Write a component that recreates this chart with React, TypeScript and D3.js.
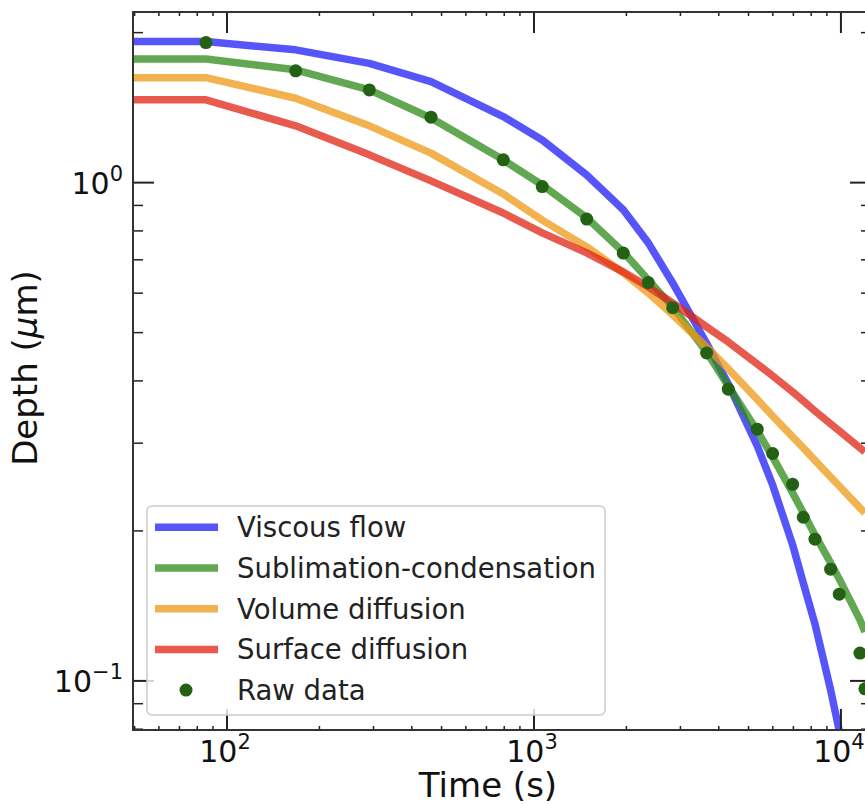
import React from 'react';
import * as d3 from 'd3';

// Raw measurements (time in s, depth in µm)
const rawTime = [85.4, 167.4, 290.8, 461.9, 794, 1064, 1485, 1954, 2357, 2830, 3651, 4295, 5338, 5991, 6961, 7539, 8229, 9256, 9874, 11533, 11970];
const rawDepth = [1.91, 1.676, 1.535, 1.353, 1.111, 0.982, 0.845, 0.722, 0.63, 0.561, 0.455, 0.385, 0.32, 0.286, 0.248, 0.213, 0.1925, 0.1676, 0.1493, 0.1137, 0.0964];

// Model curves, evaluated at t = 0 (shown as 1 s on the log axis) and at the raw data times
const modelTime = [1, 85.4, 167.4, 290.8, 461.9, 794, 1064, 1485, 1954, 2357, 2830, 3651, 4295, 5338, 5991, 6961, 7539, 8229, 9256, 9874, 11533, 11970];
const viscousFlow = [1.919, 1.919, 1.847, 1.735, 1.595, 1.357, 1.218, 1.036, 0.882, 0.757, 0.629, 0.476, 0.3945, 0.2961, 0.2473, 0.1875, 0.1573, 0.1301, 0.0959, 0.0794, 0.052, 0.047];
const sublimation = [1.771, 1.771, 1.684, 1.535, 1.348, 1.111, 0.989, 0.85, 0.726, 0.638, 0.563, 0.457, 0.3908, 0.3176, 0.2815, 0.2384, 0.2174, 0.1963, 0.1725, 0.1602, 0.1326, 0.1254];
const volumeDiffusion = [1.624, 1.624, 1.477, 1.3, 1.146, 0.949, 0.841, 0.743, 0.659, 0.6005, 0.543, 0.468, 0.4228, 0.3672, 0.3402, 0.3088, 0.2935, 0.277, 0.2566, 0.2461, 0.2224, 0.2173];
const surfaceDiffusion = [1.466, 1.466, 1.3, 1.137, 1.008, 0.869, 0.793, 0.723, 0.662, 0.618, 0.5736, 0.5134, 0.479, 0.4327, 0.4094, 0.3802, 0.3646, 0.3481, 0.328, 0.3176, 0.2935, 0.2881];

const seriesNames = ['Viscous flow', 'Sublimation-condensation', 'Volume diffusion', 'Surface diffusion'];
const seriesValues = [viscousFlow, sublimation, volumeDiffusion, surfaceDiffusion];
const seriesColors = ['#1c1cf8', '#2e8b18', '#ef9816', '#e02313'];
const rawLabel = 'Raw data';
const rawColor = '#246114';

const xMajorTicks = [100, 1000, 10000];
const xMajorExp = ['2', '3', '4'];
const yMajorTicks = [0.1, 1];
const yMajorExp = ['\u22121', '0'];

const FONT = '"DejaVu Sans", sans-serif';

export default function App() {
  const W = 865;
  const H = 804;
  const left = 133, top = 12, right = 871, bottom = 730;

  const x = d3.scaleLog().domain([49.4, 12530]).range([left, right]);
  const y = d3.scaleLog().domain([0.0797, 2.2]).range([bottom, top]);

  const isPow10 = (v: number) => Math.abs(Math.log10(v) - Math.round(Math.log10(v))) < 1e-9;
  const xMinor = x.ticks().filter(v => !isPow10(v));
  const yMinor = y.ticks().filter(v => !isPow10(v));

  const line = d3.line<number>()
    .x((_, i) => x(modelTime[i]))
    .y(d => y(d));

  const tickColor = '#222';
  const majorLen = 21;
  const xMinorLen = 4;
  const yMinorLen = 10;

  // legend layout
  const lgX = 147, lgY = 506, lgW = 458, lgH = 209;
  const rowH = 40.7;
  const row0 = 527.3;
  const legendItems = [...seriesNames, rawLabel];

  return (
    <svg width={W} height={H} style={{ position: 'absolute', left: 0, top: 0 }} fontFamily={FONT}>
      <defs>
        <clipPath id="plot">
          <rect x={left} y={top} width={right - left} height={bottom - top} />
        </clipPath>
      </defs>
      <rect width={W} height={H} fill="#fff" />

      <g clipPath="url(#plot)">
        {seriesValues.map((vals, k) => (
          <path key={k} d={line(vals) || ''} fill="none" stroke={seriesColors[k]} strokeOpacity={0.75}
            strokeWidth={7.5} strokeLinejoin="round" />
        ))}
        {rawTime.map((t, i) => (
          <circle key={i} cx={x(t)} cy={y(rawDepth[i])} r={6.5} fill={rawColor} />
        ))}
      </g>

      {/* ticks, pointing inward on all four sides */}
      <g stroke={tickColor}>
        {xMajorTicks.map(v => (
          <g key={'xM' + v}>
            <line x1={x(v)} x2={x(v)} y1={bottom} y2={bottom - majorLen} strokeWidth={2} />
            <line x1={x(v)} x2={x(v)} y1={top} y2={top + majorLen} strokeWidth={2} />
          </g>
        ))}
        {xMinor.map(v => (
          <g key={'xm' + v}>
            <line x1={x(v)} x2={x(v)} y1={bottom} y2={bottom - xMinorLen} strokeWidth={1.5} />
            <line x1={x(v)} x2={x(v)} y1={top} y2={top + xMinorLen} strokeWidth={1.5} />
          </g>
        ))}
        {yMajorTicks.map(v => (
          <g key={'yM' + v}>
            <line x1={left} x2={left + majorLen} y1={y(v)} y2={y(v)} strokeWidth={2} />
            <line x1={right} x2={right - majorLen} y1={y(v)} y2={y(v)} strokeWidth={2} />
          </g>
        ))}
        {yMinor.map(v => (
          <g key={'ym' + v}>
            <line x1={left} x2={left + yMinorLen} y1={y(v)} y2={y(v)} strokeWidth={1.5} />
            <line x1={right} x2={right - yMinorLen} y1={y(v)} y2={y(v)} strokeWidth={1.5} />
          </g>
        ))}
      </g>

      {/* spines */}
      <rect x={left} y={top} width={right - left} height={bottom - top} fill="none" stroke="#333" strokeWidth={2} />

      {/* tick labels */}
      {xMajorTicks.map((v, i) => (
        <text key={'xl' + v} x={x(v) - 2} y={762} fontSize={30} textAnchor="middle" fill="#111">
          10<tspan dy={-13} fontSize={21}>{xMajorExp[i]}</tspan>
        </text>
      ))}
      {yMajorTicks.map((v, i) => (
        <text key={'yl' + v} x={123} y={y(v) + 11.5} fontSize={30} textAnchor="end" fill="#111">
          10<tspan dy={-13} fontSize={21}>{yMajorExp[i]}</tspan>
        </text>
      ))}

      {/* axis labels */}
      <text x={488} y={797} fontSize={34} textAnchor="middle" fill="#111">Time (s)</text>
      <text transform={`translate(37,368) rotate(-90)`} fontSize={34} textAnchor="middle" fill="#111">
        Depth (<tspan fontStyle="italic">μ</tspan>m)
      </text>

      {/* legend */}
      <rect x={lgX} y={lgY} width={lgW} height={lgH} rx={5} fill="#fff" fillOpacity={0.8} stroke="#ccc" strokeWidth={1.5} />
      {legendItems.map((name, i) => {
        const cy = row0 + i * rowH;
        return (
          <g key={name}>
            {i < seriesNames.length ? (
              <line x1={155} x2={218} y1={cy} y2={cy} stroke={seriesColors[i]} strokeOpacity={0.75} strokeWidth={7.5} />
            ) : (
              <circle cx={186} cy={cy} r={6.5} fill={rawColor} />
            )}
            <text x={237} y={cy + 10} fontSize={27.5} fill="#222">{name}</text>
          </g>
        );
      })}
    </svg>
  );
}
